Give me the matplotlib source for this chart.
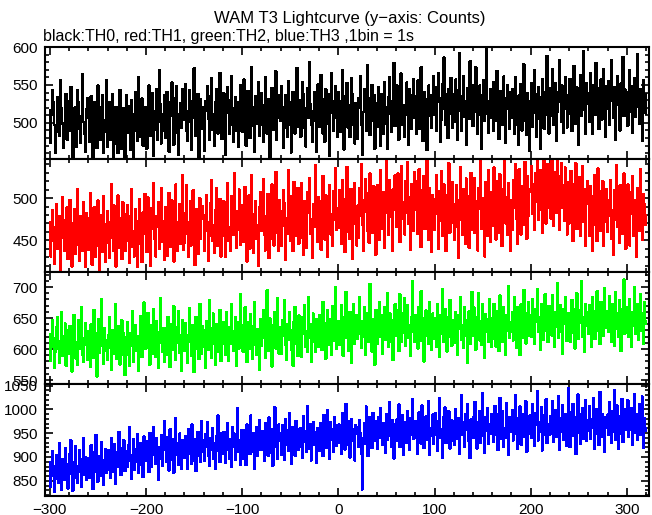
import numpy as np
import matplotlib
matplotlib.use('Agg')
import matplotlib.pyplot as plt
from matplotlib.ticker import MultipleLocator

# WAM T3 lightcurve, 1 bin = 1 s, counts
t_start = -300

th0 = [
    517, 474, 510, 543, 527, 497, 460, 488, 534, 508, 483, 556, 519, 499, 467, 486, 513, 538, 478, 506,
    489, 529, 547, 500, 451, 482, 520, 512, 468, 543, 527, 492, 474, 509, 564, 501, 485, 462, 518, 533,
    507, 475, 491, 535, 518, 453, 502, 527, 484, 467, 549, 510, 495, 477, 521, 537, 461, 488, 504, 556,
    468, 509, 527, 477, 489, 538, 441, 472, 512, 521, 486, 460, 504, 543, 515, 466, 492, 519, 452, 507,
    536, 487, 501, 522, 465, 530, 511, 452, 489, 541, 507, 476, 560, 517, 482, 494, 532, 470, 504, 486,
    521, 466, 497, 549, 531, 483, 508, 539, 456, 491, 515, 544, 478, 502, 569, 525, 473, 490, 512, 536,
    480, 518, 541, 495, 462, 527, 509, 553, 520, 471, 499, 533, 548, 487, 458, 511, 526, 493, 545, 504,
    532, 551, 489, 476, 515, 543, 501, 464, 528, 507, 572, 519, 483, 496, 538, 452, 510, 531, 492, 520,
    497, 463, 529, 516, 548, 505, 477, 535, 559, 491, 512, 470, 527, 544, 501, 486, 523, 566, 508, 479,
    524, 539, 501, 458, 513, 547, 530, 486, 497, 561, 519, 475, 506, 534, 490, 527, 468, 512, 550, 495,
    488, 526, 557, 503, 470, 515, 542, 529, 480, 508, 574, 496, 521, 462, 535, 514, 499, 553, 483, 518,
    539, 497, 475, 523, 560, 508, 486, 531, 517, 453, 502, 546, 529, 491, 515, 568, 478, 506, 537, 522,
    503, 548, 521, 467, 494, 536, 512, 482, 555, 527, 498, 461, 519, 541, 507, 486, 529, 572, 495, 514,
    530, 482, 511, 554, 538, 493, 469, 520, 546, 507, 580, 525, 498, 475, 516, 541, 503, 462, 528, 551,
    495, 527, 563, 509, 486, 531, 475, 544, 520, 499, 538, 457, 513, 566, 529, 490, 507, 548, 518, 482,
    541, 506, 488, 529, 570, 517, 465, 502, 536, 552, 494, 523, 481, 510, 559, 538, 497, 473, 526, 508,
    479, 533, 520, 561, 497, 458, 514, 545, 528, 490, 576, 507, 532, 484, 519, 550, 503, 537, 466, 521,
    526, 495, 547, 514, 470, 538, 509, 486, 553, 521, 499, 466, 534, 560, 512, 488, 529, 505, 579, 496,
    503, 549, 531, 478, 516, 565, 540, 497, 523, 482, 510, 553, 529, 471, 544, 518, 492, 536, 558, 507,
    535, 486, 514, 556, 527, 492, 573, 518, 476, 541, 505, 531, 464, 520, 549, 509, 537, 494, 521, 562,
    511, 547, 490, 528, 566, 533, 475, 504, 551, 519, 586, 538, 497, 523, 480, 545, 512, 559, 529, 493,
    538, 501, 557, 520, 478, 543, 592, 516, 489, 535, 562, 508, 528, 471, 546, 527, 505, 581, 519, 550,
    496, 534, 515, 573, 528, 485, 510, 549, 537, 466, 521, 556, 503, 540, 598, 512, 487, 529, 545, 507,
    531, 489, 554, 521, 503, 568, 537, 479, 515, 542, 497, 526, 561, 508, 474, 533, 550, 519, 492, 540,
    507, 545, 522, 486, 560, 530, 498, 471, 536, 519, 551, 490, 512, 577, 528, 502, 484, 539, 524, 463,
    529, 552, 495, 513, 570, 538, 481, 520, 547, 505, 466, 534, 558, 517, 492, 541, 526, 588, 510, 486,
    546, 509, 533, 571, 497, 524, 552, 476, 515, 540, 583, 528, 502, 549, 487, 531, 560, 518, 494, 537,
    512, 558, 530, 489, 541, 575, 520, 499, 547, 531, 471, 536, 563, 509, 528, 594, 517, 486, 552, 525,
    539, 501, 566, 527, 485, 550, 533, 511, 579, 520, 546, 492, 531, 557, 504, 538, 571, 515, 482, 548,
    518, 555, 497, 536, 583, 529, 506, 547, 478, 523, 561, 540, 512, 490, 552, 531, 587, 509, 544, 526,
    541, 496, 533, 569, 515, 548, 487, 527, 559, 508, 536, 590, 521, 499, 545, 530, 476, 556, 519, 538,
    512,
]

th1 = [
    472, 431, 449, 486, 465, 422, 457, 493, 440, 468, 479, 415, 453, 501, 461, 437, 474, 446, 489, 428,
    463, 498, 441, 419, 470, 452, 487, 434, 459, 511, 445, 426, 478, 466, 437, 495, 451, 418, 482, 460,
    439, 476, 506, 448, 421, 467, 489, 430, 458, 444, 497, 471, 412, 454, 480, 436, 502, 463, 425, 469,
    485, 447, 429, 472, 516, 453, 438, 491, 467, 419, 458, 503, 476, 441, 462, 428, 495, 450, 481, 437,
    449, 492, 465, 423, 478, 510, 442, 461, 431, 487, 455, 418, 473, 499, 446, 466, 424, 483, 458, 505,
    470, 436, 501, 477, 445, 420, 488, 463, 518, 452, 431, 479, 466, 495, 440, 459, 512, 448, 473, 427,
    489, 451, 432, 474, 506, 460, 442, 497, 469, 425, 481, 516, 455, 437, 472, 493, 446, 465, 527, 439,
    447, 482, 515, 458, 430, 471, 496, 444, 463, 509, 478, 421, 459, 487, 434, 467, 500, 452, 476, 490,
    480, 438, 461, 503, 472, 426, 455, 494, 521, 449, 468, 435, 486, 512, 458, 443, 477, 499, 431, 470,
    455, 496, 475, 430, 488, 518, 449, 466, 437, 502, 481, 457, 529, 470, 441, 485, 462, 510, 445, 476,
    492, 448, 471, 513, 459, 425, 486, 503, 440, 474, 527, 462, 435, 481, 496, 452, 468, 420, 489, 507,
    461, 497, 522, 456, 438, 479, 468, 505, 429, 483, 452, 516, 473, 444, 491, 531, 459, 476, 437, 498,
    485, 443, 467, 509, 494, 427, 476, 458, 533, 481, 449, 502, 466, 437, 519, 472, 490, 455, 512, 446,
    452, 489, 518, 471, 433, 496, 463, 441, 507, 482, 524, 458, 475, 429, 493, 466, 539, 477, 448, 501,
    497, 461, 439, 484, 526, 469, 451, 503, 478, 430, 492, 515, 457, 481, 443, 508, 474, 535, 462, 488,
    465, 509, 482, 446, 521, 474, 493, 436, 499, 537, 460, 483, 452, 511, 476, 428, 495, 518, 470, 444,
    491, 453, 512, 479, 540, 468, 438, 497, 522, 484, 461, 506, 447, 529, 472, 493, 459, 514, 481, 433,
    472, 515, 496, 451, 533, 488, 464, 507, 441, 482, 545, 499, 456, 521, 478, 493, 437, 510, 486, 527,
    503, 466, 529, 489, 448, 514, 538, 476, 495, 457, 520, 483, 542, 470, 501, 439, 517, 492, 461, 531,
    486, 520, 458, 497, 534, 471, 442, 509, 482, 526, 463, 495, 546, 477, 450, 512, 489, 436, 503, 468,
    462, 499, 527, 481, 440, 508, 473, 532, 455, 490, 516, 469, 437, 503, 484, 541, 459, 496, 471, 519,
    493, 451, 480, 515, 466, 429, 498, 537, 474, 457, 511, 485, 446, 523, 470, 502, 441, 488, 530, 462,
    481, 524, 459, 496, 473, 438, 512, 487, 545, 463, 500, 476, 431, 519, 492, 455, 533, 478, 448, 507,
    467, 503, 536, 482, 451, 520, 495, 459, 528, 474, 443, 510, 489, 547, 470, 501, 456, 518, 484, 437,
    498, 462, 521, 489, 540, 475, 446, 509, 534, 481, 457, 514, 493, 468, 543, 500, 452, 526, 479, 511,
    507, 538, 481, 516, 462, 529, 495, 548, 474, 503, 533, 486, 459, 521, 545, 498, 470, 512, 540, 489,
    522, 476, 544, 501, 467, 531, 510, 483, 549, 497, 462, 526, 541, 488, 515, 473, 536, 505, 457, 519,
    470, 508, 532, 486, 449, 517, 494, 541, 463, 500, 476, 525, 455, 489, 538, 472, 511, 444, 497, 520,
    493, 455, 514, 480, 437, 502, 527, 468, 491, 449, 535, 474, 508, 461, 486, 520, 443, 497, 472, 511,
    460, 498, 479, 521, 452, 486, 433, 509, 474, 539, 466, 492, 447, 515, 481, 458, 503, 529, 470, 440,
    489, 516, 462, 444, 507, 481, 526, 455, 498, 472, 430, 512, 485, 461, 534, 477, 450, 505, 493, 468,
    480,
]

th2 = [
    624, 581, 603, 647, 618, 569, 596, 635, 652, 601, 577, 613, 660, 589, 620, 598, 641, 573, 609, 631,
    592, 637, 619, 564, 603, 655, 628, 585, 611, 574, 646, 600, 622, 668, 590, 579, 617, 642, 606, 583,
    629, 598, 571, 640, 617, 586, 663, 603, 625, 556, 612, 648, 594, 621, 680, 605, 576, 633, 615, 597,
    583, 622, 651, 602, 567, 630, 614, 593, 672, 609, 584, 637, 620, 575, 605, 646, 627, 591, 558, 619,
    616, 644, 590, 573, 625, 605, 661, 580, 612, 639, 597, 621, 565, 603, 653, 629, 587, 614, 675, 600,
    601, 629, 658, 612, 575, 638, 620, 593, 664, 607, 587, 645, 627, 569, 610, 682, 624, 596, 633, 579,
    633, 590, 617, 652, 604, 571, 640, 626, 598, 669, 613, 583, 636, 610, 661, 594, 622, 565, 647, 618,
    597, 642, 623, 578, 611, 666, 630, 589, 605, 639, 563, 618, 651, 600, 628, 584, 673, 615, 592, 637,
    630, 604, 569, 645, 621, 598, 678, 612, 586, 633, 657, 609, 575, 640, 623, 596, 612, 663, 581, 627,
    608, 643, 625, 590, 660, 617, 581, 636, 609, 672, 628, 597, 614, 651, 573, 625, 644, 601, 689, 615,
    639, 596, 622, 667, 611, 579, 643, 628, 601, 656, 619, 584, 637, 675, 606, 591, 632, 614, 566, 648,
    605, 641, 663, 618, 586, 632, 695, 610, 597, 649, 623, 572, 638, 614, 660, 601, 627, 682, 593, 635,
    628, 592, 647, 621, 678, 606, 583, 640, 615, 659, 631, 598, 612, 573, 644, 668, 609, 626, 589, 654,
    641, 610, 587, 652, 625, 670, 603, 629, 596, 684, 618, 640, 579, 633, 657, 611, 595, 648, 626, 603,
    612, 655, 633, 598, 676, 620, 641, 584, 629, 662, 607, 648, 623, 591, 669, 637, 614, 700, 601, 631,
    645, 606, 628, 671, 613, 589, 652, 634, 692, 618, 639, 597, 660, 625, 578, 641, 673, 609, 631, 654,
    616, 651, 683, 625, 602, 645, 619, 667, 590, 637, 658, 611, 634, 705, 622, 596, 648, 631, 575, 663,
    648, 609, 637, 676, 620, 655, 593, 641, 668, 615, 633, 690, 603, 628, 657, 611, 646, 582, 639, 672,
    621, 663, 640, 597, 688, 631, 612, 657, 626, 682, 605, 645, 670, 618, 639, 589, 652, 710, 628, 611,
    655, 617, 642, 601, 668, 630, 693, 613, 649, 580, 636, 662, 621, 647, 609, 676, 634, 598, 657, 640,
    617, 649, 603, 672, 636, 588, 655, 624, 697, 640, 611, 664, 630, 596, 651, 619, 679, 637, 605, 646,
    643, 610, 660, 627, 591, 654, 633, 683, 615, 639, 602, 668, 622, 646, 578, 637, 661, 608, 629, 692,
    622, 667, 641, 599, 652, 628, 690, 614, 645, 607, 673, 633, 586, 656, 627, 648, 611, 681, 639, 603,
    650, 616, 673, 632, 604, 661, 638, 597, 686, 625, 648, 612, 667, 640, 591, 655, 629, 702, 618, 643,
    628, 659, 614, 683, 641, 602, 667, 633, 649, 590, 672, 637, 618, 695, 645, 609, 658, 626, 676, 621,
    654, 619, 681, 636, 608, 665, 644, 697, 627, 651, 599, 673, 639, 615, 662, 688, 630, 646, 611, 669,
    631, 668, 622, 687, 645, 604, 659, 636, 706, 618, 650, 671, 627, 592, 664, 641, 683, 613, 657, 635,
    657, 612, 644, 679, 626, 665, 601, 648, 690, 634, 617, 662, 642, 709, 620, 651, 596, 673, 638, 660,
    625, 670, 648, 603, 684, 637, 661, 616, 655, 693, 630, 647, 608, 676, 643, 621, 666, 698, 634, 652,
    661, 628, 685, 640, 612, 672, 649, 605, 691, 633, 658, 620, 679, 645, 597, 664, 638, 712, 625, 651,
    634, 667, 619, 681, 646, 603, 660, 637, 699, 624, 653, 672, 615, 643, 688, 629, 657, 609, 676, 641,
    645,
]

th3 = [
    889, 838, 861, 912, 880, 826, 854, 903, 871, 845, 929, 866, 831, 895, 877, 852, 918, 860, 884, 834,
    864, 907, 935, 873, 829, 890, 857, 922, 881, 846, 869, 914, 895, 838, 876, 940, 862, 899, 851, 887,
    897, 856, 873, 925, 889, 833, 868, 911, 946, 875, 848, 902, 883, 860, 931, 878, 841, 893, 917, 866,
    874, 915, 901, 856, 939, 888, 868, 927, 843, 895, 910, 879, 952, 897, 862, 918, 884, 935, 870, 905,
    913, 880, 926, 962, 891, 855, 904, 937, 874, 916, 889, 948, 867, 902, 930, 884, 921, 858, 943, 896,
    892, 934, 917, 868, 951, 899, 879, 928, 963, 904, 886, 940, 912, 853, 921, 897, 946, 881, 915, 975,
    927, 889, 941, 906, 872, 958, 923, 895, 937, 867, 915, 982, 904, 930, 884, 949, 912, 876, 935, 901,
    898, 944, 921, 876, 959, 907, 930, 885, 968, 916, 893, 937, 871, 925, 953, 903, 929, 889, 976, 911,
    935, 892, 948, 921, 974, 903, 882, 939, 916, 960, 897, 929, 875, 944, 913, 987, 924, 890, 951, 908,
    906, 953, 928, 887, 945, 972, 914, 897, 938, 879, 963, 921, 949, 894, 932, 1002, 910, 936, 883, 957,
    941, 897, 956, 930, 883, 968, 918, 947, 906, 987, 934, 911, 951, 876, 929, 962, 902, 940, 978, 915,
    916, 954, 935, 891, 972, 926, 949, 903, 983, 931, 908, 959, 882, 940, 1004, 921, 946, 897, 968, 933,
    949, 905, 967, 938, 894, 980, 925, 957, 912, 992, 940, 886, 963, 929, 951, 903, 976, 934, 915, 958,
    922, 961, 940, 899, 985, 931, 955, 910, 1007, 946, 918, 968, 893, 937, 974, 926, 952, 887, 961, 942,
    955, 913, 971, 944, 902, 988, 929, 963, 919, 999, 950, 897, 973, 936, 958, 910, 983, 941, 924, 966,
    929, 968, 950, 906, 993, 937, 961, 916, 1012, 953, 925, 975, 899, 944, 980, 933, 959, 893, 967, 948,
    962, 921, 978, 950, 907, 832, 939, 971, 928, 1006, 956, 902, 983, 945, 967, 919, 992, 951, 933, 975,
    961, 917, 983, 940, 1002, 955, 926, 972, 949, 908, 991, 937, 966, 1015, 944, 921, 978, 953, 897, 969,
    933, 979, 958, 1010, 921, 962, 944, 988, 905, 951, 973, 930, 996, 959, 915, 982, 947, 1021, 939, 966,
    975, 941, 906, 963, 994, 950, 928, 1008, 957, 919, 971, 985, 936, 952, 1017, 904, 960, 945, 989, 927,
    947, 992, 962, 913, 976, 1023, 940, 958, 899, 983, 951, 1004, 929, 967, 942, 996, 918, 961, 977, 935,
    969, 925, 1001, 954, 938, 982, 907, 964, 1029, 946, 973, 921, 990, 957, 1012, 934, 960, 898, 979, 950,
    940, 985, 1016, 962, 918, 974, 951, 997, 930, 966, 1035, 944, 909, 983, 955, 1003, 927, 968, 949, 991,
    976, 931, 963, 1007, 947, 989, 915, 955, 1024, 938, 970, 996, 922, 961, 941, 1013, 952, 904, 984, 959,
    953, 998, 935, 971, 1030, 949, 917, 982, 962, 1006, 926, 958, 991, 943, 975, 1017, 911, 966, 948, 987,
    982, 940, 1011, 958, 923, 993, 967, 1039, 935, 974, 952, 1004, 914, 963, 988, 946, 1021, 929, 970, 955,
    947, 986, 964, 1018, 931, 972, 999, 942, 960, 1027, 915, 981, 953, 1008, 937, 968, 990, 924, 976, 1044,
    970, 921, 995, 957, 1012, 944, 983, 906, 966, 1031, 950, 989, 928, 974, 1003, 939, 961, 1019, 933, 978,
    955, 1006, 938, 979, 961, 1024, 917, 987, 949, 1001, 972, 926, 1037, 958, 991, 943, 968, 910, 983, 962,
    989, 946, 1015, 967, 929, 996, 952, 1041, 936, 978, 1008, 918, 963, 985, 949, 1022, 931, 971, 1000, 957,
    972, 1019, 943, 985, 958, 1002, 925, 968, 1033, 951, 990, 936, 977, 1012, 947, 963, 1027, 920, 981, 955,
    960,
]

series = [th0, th1, th2, th3]
colors = ['black', '#ff0000', '#00ff00', '#0000ff']
ylims = [(452, 600), (413, 546), (544, 725), (818, 1054)]
xlim = (-305, 323)

plt.rcParams['font.family'] = ['Liberation Sans', 'DejaVu Sans']
plt.rcParams['font.size'] = 11

fig, axs = plt.subplots(nrows=4, ncols=1, sharex=True, figsize=(6.52, 5.15), dpi=100,
        gridspec_kw={'left': 45/652, 'right': 649/652, 'top': 1-47/515, 'bottom': 1-496/515, 'hspace': 0})

for ax, data, col, yl in zip(axs, series, colors, ylims):
    x = np.arange(len(data)) + t_start
    ax.plot(x, data, color=col, lw=1.0, drawstyle='steps-mid', antialiased=False)
    ax.set_xlim(xlim)
    ax.set_ylim(yl)
    ax.xaxis.set_major_locator(MultipleLocator(100))
    ax.xaxis.set_minor_locator(MultipleLocator(20))
    ax.yaxis.set_major_locator(MultipleLocator(50))
    ax.yaxis.set_minor_locator(MultipleLocator(10))
    ax.tick_params(which='both', direction='in', top=True, right=True, width=1.2)
    ax.tick_params(which='major', length=6, pad=5)
    ax.tick_params(which='minor', length=3)
    for sp in ax.spines.values():
        sp.set_linewidth(1.5)

fig.text(0.537, 1-18/515, 'WAM T3 Lightcurve (y\u2212axis: Counts)', ha='center', va='center', fontsize=12)
fig.text(43/652, 1-37/515, 'black:TH0, red:TH1, green:TH2, blue:TH3 ,1bin = 1s', ha='left', va='center',
         fontsize=11.5)

fig.savefig('out.png', dpi=100)
